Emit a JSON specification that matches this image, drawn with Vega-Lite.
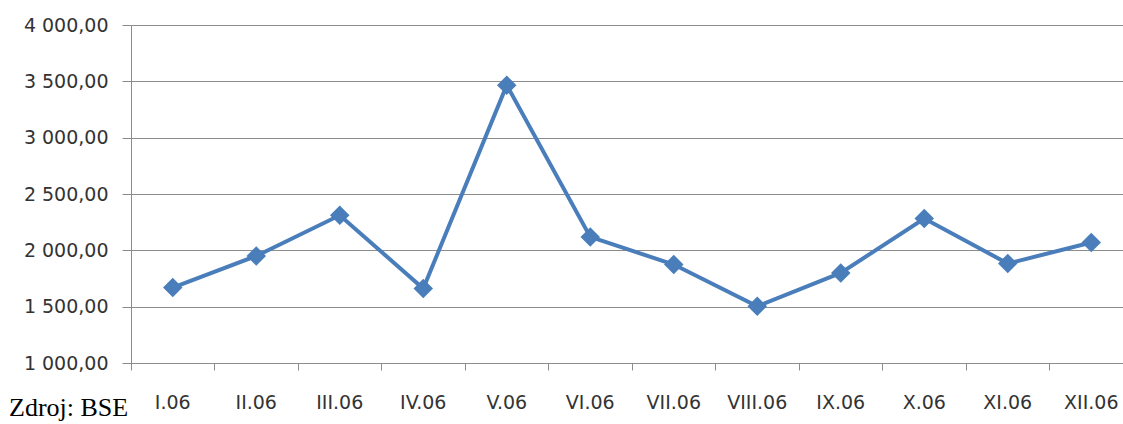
{
  "$schema": "https://vega.github.io/schema/vega-lite/v6.json",
  "width": 1002,
  "height": 338,
  "autosize": {"type": "none"},
  "padding": {"left": 131, "top": 25, "right": 0, "bottom": 61},
  "background": "white",
  "config": {
    "locale": {"number": {"decimal": ",", "thousands": "\u00a0", "grouping": [3], "currency": ["", ""]}},
    "view": {"stroke": null},
    "font": "DejaVu Sans"
  },
  "title": {
    "text": "Zdroj: BSE",
    "orient": "bottom",
    "anchor": "start",
    "frame": "group",
    "font": "Liberation Serif",
    "fontSize": 26,
    "fontWeight": "normal",
    "color": "#000000",
    "dx": -122,
    "offset": -17
  },
  "resolve": {"axis": {"x": "independent"}},
  "data": {
    "values": [
      {"mesiac": "I.06", "hodnota": 1670},
      {"mesiac": "II.06", "hodnota": 1950},
      {"mesiac": "III.06", "hodnota": 2311},
      {"mesiac": "IV.06", "hodnota": 1661},
      {"mesiac": "V.06", "hodnota": 3466},
      {"mesiac": "VI.06", "hodnota": 2119},
      {"mesiac": "VII.06", "hodnota": 1874},
      {"mesiac": "VIII.06", "hodnota": 1503},
      {"mesiac": "IX.06", "hodnota": 1799},
      {"mesiac": "X.06", "hodnota": 2282},
      {"mesiac": "XI.06", "hodnota": 1883},
      {"mesiac": "XII.06", "hodnota": 2069}
    ]
  },
  "layer": [
    {
      "mark": {"type": "rule", "color": "#8c8c8c", "strokeWidth": 1, "opacity": 0},
      "encoding": {
        "x": {
          "field": "mesiac",
          "type": "ordinal",
          "sort": null,
          "scale": {"type": "band", "paddingInner": 0, "paddingOuter": 0},
          "axis": {
            "orient": "bottom",
            "bandPosition": 0,
            "labels": false,
            "ticks": true,
            "tickSize": 7,
            "tickColor": "#8c8c8c",
            "domain": true,
            "domainColor": "#8c8c8c",
            "grid": false,
            "title": null
          }
        },
        "y": {
          "field": "hodnota",
          "type": "quantitative",
          "scale": {"domain": [1000, 4000], "nice": false, "zero": false},
          "axis": {
            "title": null,
            "values": [1000, 1500, 2000, 2500, 3000, 3500, 4000],
            "format": ",.2f",
            "labelFontSize": 19,
            "labelColor": "#333333",
            "labelPadding": 14,
            "tickSize": 9,
            "tickColor": "#8c8c8c",
            "domainColor": "#8c8c8c",
            "gridColor": "#8c8c8c",
            "gridWidth": 1,
            "grid": true
          }
        }
      }
    },
    {
      "mark": {"type": "line", "color": "#4a7ebb", "strokeWidth": 4},
      "encoding": {
        "x": {
          "field": "mesiac",
          "type": "ordinal",
          "sort": null,
          "axis": {
            "orient": "bottom",
            "title": null,
            "labelAngle": 0,
            "labelFontSize": 19,
            "labelColor": "#333333",
            "labelPadding": 39,
            "labelBaseline": "middle",
            "ticks": false,
            "domain": false,
            "grid": false
          }
        },
        "y": {"field": "hodnota", "type": "quantitative"}
      }
    },
    {
      "mark": {"type": "point", "shape": "diamond", "filled": true, "size": 380, "color": "#4a7ebb", "opacity": 1},
      "encoding": {
        "x": {"field": "mesiac", "type": "ordinal", "sort": null, "axis": null},
        "y": {"field": "hodnota", "type": "quantitative"}
      }
    }
  ]
}
